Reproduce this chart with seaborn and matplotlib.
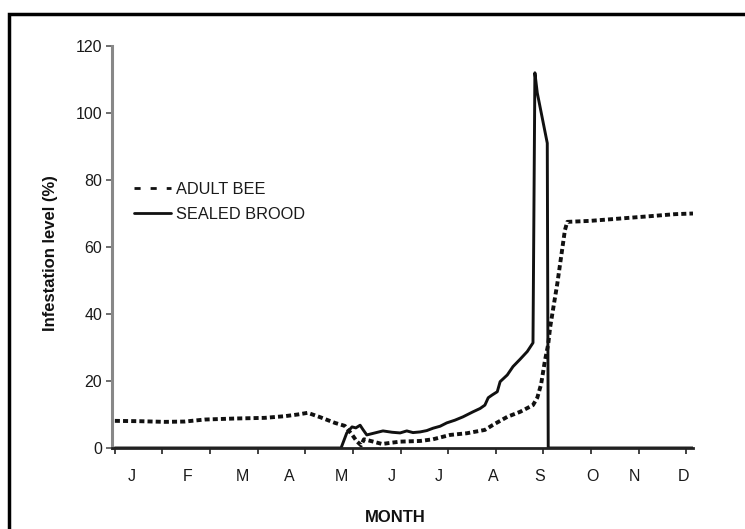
import matplotlib
matplotlib.use("Agg")
import matplotlib.pyplot as plt
import seaborn as sns
import pandas as pd
from matplotlib.lines import Line2D
from matplotlib.patches import Rectangle

# ---- data (x in months from 1 January) ----
adult_month = [0.00, 0.53, 1.05, 1.47, 1.89, 2.52, 3.15, 3.57, 3.84, 4.05, 4.31, 4.62,
               4.83, 4.98, 5.08, 5.17, 5.23, 5.40, 5.61, 5.82, 5.99, 6.41, 6.68, 7.04,
               7.39, 7.77, 7.94, 8.24, 8.51, 8.78, 8.87, 8.95, 9.03, 9.10, 9.14, 9.22,
               9.29, 9.35, 9.39, 9.45, 9.50, 9.98, 10.61, 11.24, 11.76, 12.14]
adult_value = [8.1, 8.0, 7.8, 7.9, 8.5, 8.8, 9.0, 9.5, 10.0, 10.5, 9.2, 7.5,
               6.6, 4.0, 2.0, 0.8, 2.6, 2.0, 1.2, 1.6, 1.9, 2.1, 2.6, 3.9,
               4.4, 5.4, 6.9, 9.3, 10.8, 12.8, 15.0, 19.0, 26.0, 31.0, 36.0, 43.0,
               49.0, 55.0, 59.0, 65.0, 67.5, 67.8, 68.5, 69.2, 69.8, 70.0]

brood_month = [0.00, 4.75, 4.87, 4.98, 5.06, 5.15, 5.21, 5.29, 5.46, 5.63, 5.82, 5.99,
               6.13, 6.26, 6.41, 6.55, 6.68, 6.83, 6.97, 7.14, 7.31, 7.52, 7.67, 7.77,
               7.84, 7.92, 8.03, 8.09, 8.24, 8.36, 8.51, 8.66, 8.78, 8.82, 8.87, 9.08,
               9.10, 12.14]
brood_value = [0, 0, 4.5, 6.3, 6.0, 6.8, 5.5, 3.9, 4.5, 5.1, 4.7, 4.5,
               5.1, 4.6, 4.8, 5.2, 5.9, 6.5, 7.5, 8.3, 9.3, 10.8, 11.8, 12.8,
               15.0, 15.8, 16.8, 19.8, 21.8, 24.3, 26.5, 28.8, 31.4, 112.0, 106.0, 91.0,
               0, 0]

month_labels = ["J", "F", "M", "A", "M", "J", "J", "A", "S", "O", "N", "D"]
month_label_pos = [0.36, 1.53, 2.67, 3.66, 4.75, 5.82, 6.81, 7.94, 8.93, 10.02, 10.90, 11.95]
month_ticks = list(range(13))
y_ticks = [0, 20, 40, 60, 80, 100, 120]

series_names = ["ADULT BEE", "SEALED BROOD"]

adult_df = pd.DataFrame({"month": adult_month, "value": adult_value})
brood_df = pd.DataFrame({"month": brood_month, "value": brood_value})

sns.set_style("white")
plt.rcParams["font.family"] = ["Liberation Sans", "DejaVu Sans"]

fig = plt.figure(figsize=(7.45, 5.29), dpi=100)
ax = fig.add_axes([112 / 745, 1 - 448 / 529, (693 - 112) / 745, (448 - 46) / 529])

sns.lineplot(data=adult_df, x="month", y="value", ax=ax, color="#111111",
             linewidth=2.8, linestyle=(0, (1.3, 0.8)), estimator=None, sort=False)
sns.lineplot(data=brood_df, x="month", y="value", ax=ax, color="#111111",
             linewidth=2.1, estimator=None, sort=False)

ax.set_xlim(-0.06, 12.14)
ax.set_ylim(0, 120)
ax.set_yticks(y_ticks)
ax.set_xticks(month_ticks)
ax.set_xticklabels([])
ax.set_xticks(month_label_pos, minor=True)
ax.set_xticklabels(month_labels, minor=True)
ax.tick_params(axis="x", which="minor", length=0, pad=15, labelsize=11.5,
               labelcolor="#1a1a1a")
ax.tick_params(axis="x", which="major", direction="out", length=4, width=1.2,
               color="#222222", bottom=True)
ax.tick_params(axis="y", direction="out", length=4, width=1.2, color="#555555",
               left=True, labelsize=11.5, pad=3, labelcolor="#1a1a1a")

for s in ["top", "right"]:
    ax.spines[s].set_visible(False)
ax.spines["left"].set_color("#888888")
ax.spines["left"].set_linewidth(2.2)
ax.spines["bottom"].set_color("#222222")
ax.spines["bottom"].set_linewidth(2.0)
ax.spines["bottom"].set_zorder(5)

ax.set_xlabel("MONTH", fontsize=12, fontweight="bold", color="#111111")
ax.xaxis.set_label_coords((395 - 112) / 581, (448 - 518) / 402)
ax.xaxis.label.set_va("center")
ax.set_ylabel("Infestation level (%)", fontsize=12, fontweight="bold", color="#111111")
ax.yaxis.set_label_coords((51 - 112) / 581, (448 - 253) / 402)
ax.yaxis.label.set_va("center")

handles = [Line2D([], [], color="#111111", linewidth=2.0, linestyle=(0, (2.2, 3.6))),
           Line2D([], [], color="#111111", linewidth=2.0)]
ax.legend(handles, series_names, loc="upper left", bbox_to_anchor=(0.012, 0.699),
          frameon=False, fontsize=11.8, handlelength=2.3, handletextpad=0.3,
          labelspacing=0.62, labelcolor="#1a1a1a")

# outer frame of the scanned figure
fig.patches.append(Rectangle((9 / 745, -0.05), 1.1, 1 - 14 / 529 + 0.05,
                             transform=fig.transFigure, fill=False,
                             edgecolor="black", linewidth=2.5))

fig.savefig("out.png", dpi=100)
